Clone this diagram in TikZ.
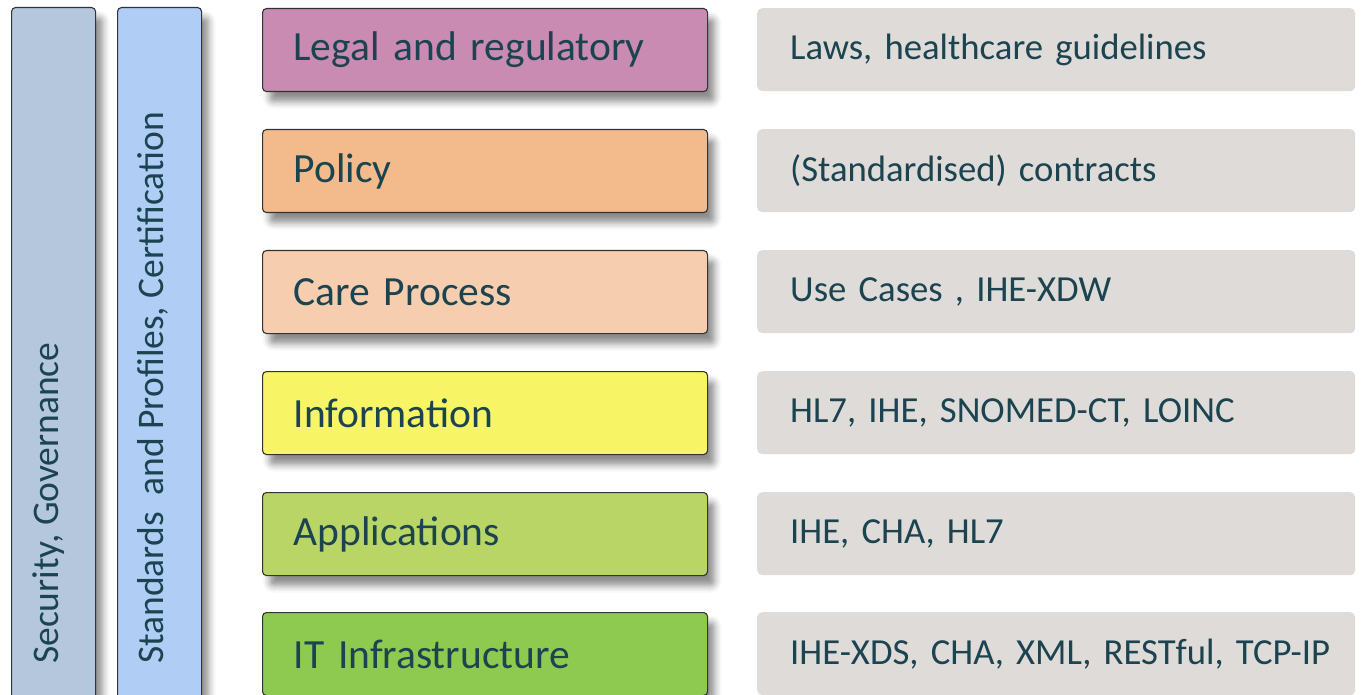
\documentclass[tikz,border=0pt]{standalone}
\usepackage{fontspec}
\setmainfont{Carlito}
\usetikzlibrary{shadows.blur}
\definecolor{txt}{HTML}{1B4350}
\definecolor{barA}{HTML}{B4C7DD}
\definecolor{barB}{HTML}{AFCDF5}
\definecolor{cLegal}{HTML}{C98BB1}
\definecolor{cPolicy}{HTML}{F3BA8C}
\definecolor{cCare}{HTML}{F6CDAE}
\definecolor{cInfo}{HTML}{F7F566}
\definecolor{cApps}{HTML}{B9D566}
\definecolor{cIT}{HTML}{8FCA50}
\definecolor{cGrey}{HTML}{DEDBD8}
\tikzset{
  shad/.style={blur shadow={shadow xshift=7pt, shadow yshift=-10pt, shadow blur radius=7pt, shadow opacity=45}},
  layerbox/.style={draw=black!80, line width=1.1pt, rounded corners=4pt, shad,
    minimum width=445pt, minimum height=83pt, anchor=north west, inner sep=0pt,
    text width=383pt, align=left, font=\fontsize{41.5}{46}\selectfont, text=txt},
  greybox/.style={fill=cGrey, rounded corners=5pt, minimum width=598pt, minimum height=83pt,
    anchor=north west, inner sep=0pt, text width=532pt, align=left,
    font=\fontsize{36.7}{40}\selectfont, text=txt},
  barbox/.style={draw=black!80, line width=1.1pt, rounded corners=4pt, shad,
    minimum width=84pt, minimum height=720pt, anchor=north west, inner sep=0pt},
  bartext/.style={rotate=90, anchor=west, inner sep=0pt, font=\fontsize{37.5}{41}\selectfont, text=txt}
}
\begin{document}
\begin{tikzpicture}[x=1pt,y=-1pt]
\useasboundingbox (0,0) rectangle (1361,695);
\node[barbox, fill=barA] (secbar) at (11,7) {};
\node[barbox, fill=barB] (stdbar) at (117,7) {};
\node[bartext] (sectext) at (49,664) {Security, Governance};
\node[bartext] (stdtext) at (153,664) {Standards\ \ and Profiles, Certification};

\node[layerbox, fill=cLegal] (legal) at (262,8) {Legal and regulatory\vphantom{p}};
\node[layerbox, fill=cPolicy] (policy) at (262,129) {Policy};
\node[layerbox, fill=cCare] (care) at (262,250) {Care Process};
\node[layerbox, fill=cInfo] (info) at (262,371) {Information};
\node[layerbox, fill=cApps] (apps) at (262,492) {Applications};
\node[layerbox, fill=cIT] (it) at (262,612) {IT Infrastructure};

\node[greybox] (glegal) at (757,8) {Laws, healthcare guidelines};
\node[greybox] (gpolicy) at (757,129) {(Standardised) contracts};
\node[greybox] (gcare) at (757,250) {Use Cases , IHE-XDW};
\node[greybox] (ginfo) at (757,371) {HL7, IHE, SNOMED-CT, LOINC};
\node[greybox] (gapps) at (757,492) {IHE, CHA, HL7};
\node[greybox] (git) at (757,612) {\mbox{IHE-XDS, CHA, XML, RESTful, TCP-IP}};
\end{tikzpicture}
\end{document}
